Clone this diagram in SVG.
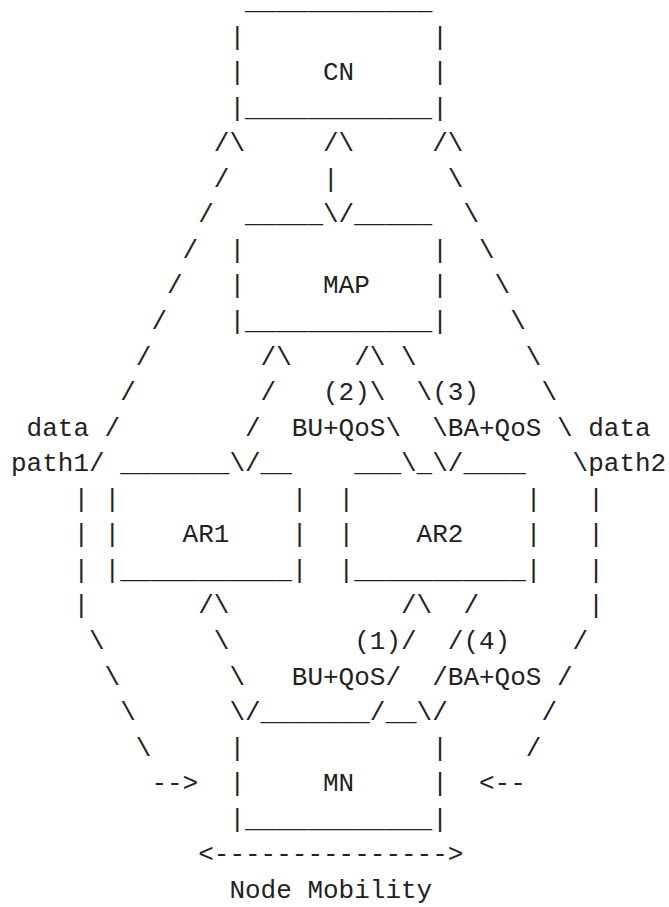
<svg xmlns="http://www.w3.org/2000/svg" width="669" height="907" viewBox="0 0 669 907" xml:space="preserve">
<style>
text{font-family:"Liberation Mono","DejaVu Sans Mono",monospace;font-size:26px;fill:#222;white-space:pre}
</style>
<rect width="669" height="907" fill="#fff"/>
<g id="node-cn">
<text x="245" y="8.9">____________</text>
<text x="229.4" y="44.5">|            |</text>
<text x="229.4" y="80">|     CN     |</text>
<text x="229.4" y="115.6">|____________|</text>
</g>
<g id="node-map">
<text x="245" y="222.3">_____</text>
<text x="354.2" y="222.3">_____</text>
<text x="229.4" y="257.8">|            |</text>
<text x="229.4" y="293.4">|     MAP    |</text>
<text x="229.4" y="328.9">|____________|</text>
</g>
<g id="node-ar1">
<text x="120.2" y="471.2">_______</text>
<text x="260.6" y="471.2">__</text>
<text x="104.6" y="506.7">|           |</text>
<text x="104.6" y="542.3">|    AR1    |</text>
<text x="104.6" y="577.9">|___________|</text>
</g>
<g id="node-ar2">
<text x="354.2" y="471.2">___</text>
<text x="416.6" y="471.2">_</text>
<text x="463.4" y="471.2">____</text>
<text x="338.6" y="506.7">|           |</text>
<text x="338.6" y="542.3">|    AR2    |</text>
<text x="338.6" y="577.9">|___________|</text>
</g>
<g id="node-mn">
<text x="260.6" y="720.1">_______</text>
<text x="385.4" y="720.1">__</text>
<text x="229.4" y="755.6">|            |</text>
<text x="229.4" y="791.2">|     MN     |</text>
<text x="229.4" y="826.8">|____________|</text>
</g>
<g id="connectors">
<g id="data-path1">
<text x="213.8" y="151.1">/\</text>
<text x="213.8" y="186.7">/</text>
<text x="198.2" y="222.3">/</text>
<text x="182.6" y="257.8">/</text>
<text x="167" y="293.4">/</text>
<text x="151.4" y="328.9">/</text>
<text x="135.8" y="364.5">/</text>
<text x="120.2" y="400.1">/</text>
<text x="104.6" y="435.6">/</text>
<text x="89" y="471.2">/</text>
<text x="73.4" y="506.7">|</text>
<text x="73.4" y="542.3">|</text>
<text x="73.4" y="577.9">|</text>
<text x="73.4" y="613.4">|</text>
<text x="89" y="649">\</text>
<text x="104.6" y="684.5">\</text>
<text x="120.2" y="720.1">\</text>
<text x="135.8" y="755.6">\</text>
<text x="151.4" y="791.2">--&gt;</text>
<text x="26.6" y="435.6">data</text>
<text x="11" y="471.2">path1</text>
</g>
<g id="cn-map">
<text x="323" y="151.1">/\</text>
<text x="323" y="186.7">|</text>
<text x="323" y="222.3">\/</text>
</g>
<g id="data-path2">
<text x="432.2" y="151.1">/\</text>
<text x="447.8" y="186.7">\</text>
<text x="463.4" y="222.3">\</text>
<text x="479" y="257.8">\</text>
<text x="494.6" y="293.4">\</text>
<text x="510.2" y="328.9">\</text>
<text x="525.8" y="364.5">\</text>
<text x="541.4" y="400.1">\</text>
<text x="557" y="435.6">\</text>
<text x="572.6" y="471.2">\</text>
<text x="588.2" y="506.7">|</text>
<text x="588.2" y="542.3">|</text>
<text x="588.2" y="577.9">|</text>
<text x="588.2" y="613.4">|</text>
<text x="572.6" y="649">/</text>
<text x="557" y="684.5">/</text>
<text x="541.4" y="720.1">/</text>
<text x="525.8" y="755.6">/</text>
<text x="479" y="791.2">&lt;--</text>
<text x="588.2" y="435.6">data</text>
<text x="588.2" y="471.2">path2</text>
</g>
<g id="map-ar1">
<text x="260.6" y="364.5">/\</text>
<text x="260.6" y="400.1">/</text>
<text x="245" y="435.6">/</text>
<text x="229.4" y="471.2">\/</text>
</g>
<g id="bu2">
<text x="354.2" y="364.5">/\</text>
<text x="369.8" y="400.1">\</text>
<text x="385.4" y="435.6">\</text>
<text x="401" y="471.2">\</text>
<text x="323" y="400.1">(2)</text>
<text x="291.8" y="435.6">BU+QoS</text>
</g>
<g id="ba3">
<text x="401" y="364.5">\</text>
<text x="416.6" y="400.1">\</text>
<text x="432.2" y="435.6">\</text>
<text x="432.2" y="471.2">\/</text>
<text x="432.2" y="400.1">(3)</text>
<text x="447.8" y="435.6">BA+QoS</text>
</g>
<g id="ar1-mn">
<text x="198.2" y="613.4">/\</text>
<text x="213.8" y="649">\</text>
<text x="229.4" y="684.5">\</text>
<text x="229.4" y="720.1">\/</text>
</g>
<g id="bu1">
<text x="401" y="613.4">/\</text>
<text x="401" y="649">/</text>
<text x="385.4" y="684.5">/</text>
<text x="369.8" y="720.1">/</text>
<text x="354.2" y="649">(1)</text>
<text x="291.8" y="684.5">BU+QoS</text>
</g>
<g id="ba4">
<text x="463.4" y="613.4">/</text>
<text x="447.8" y="649">/</text>
<text x="432.2" y="684.5">/</text>
<text x="416.6" y="720.1">\/</text>
<text x="463.4" y="649">(4)</text>
<text x="447.8" y="684.5">BA+QoS</text>
</g>
<g id="mobility">
<text x="198.2" y="862.3">&lt;---------------&gt;</text>
<text x="229.4" y="897.9">Node Mobility</text>
</g>
</g>
</svg>
